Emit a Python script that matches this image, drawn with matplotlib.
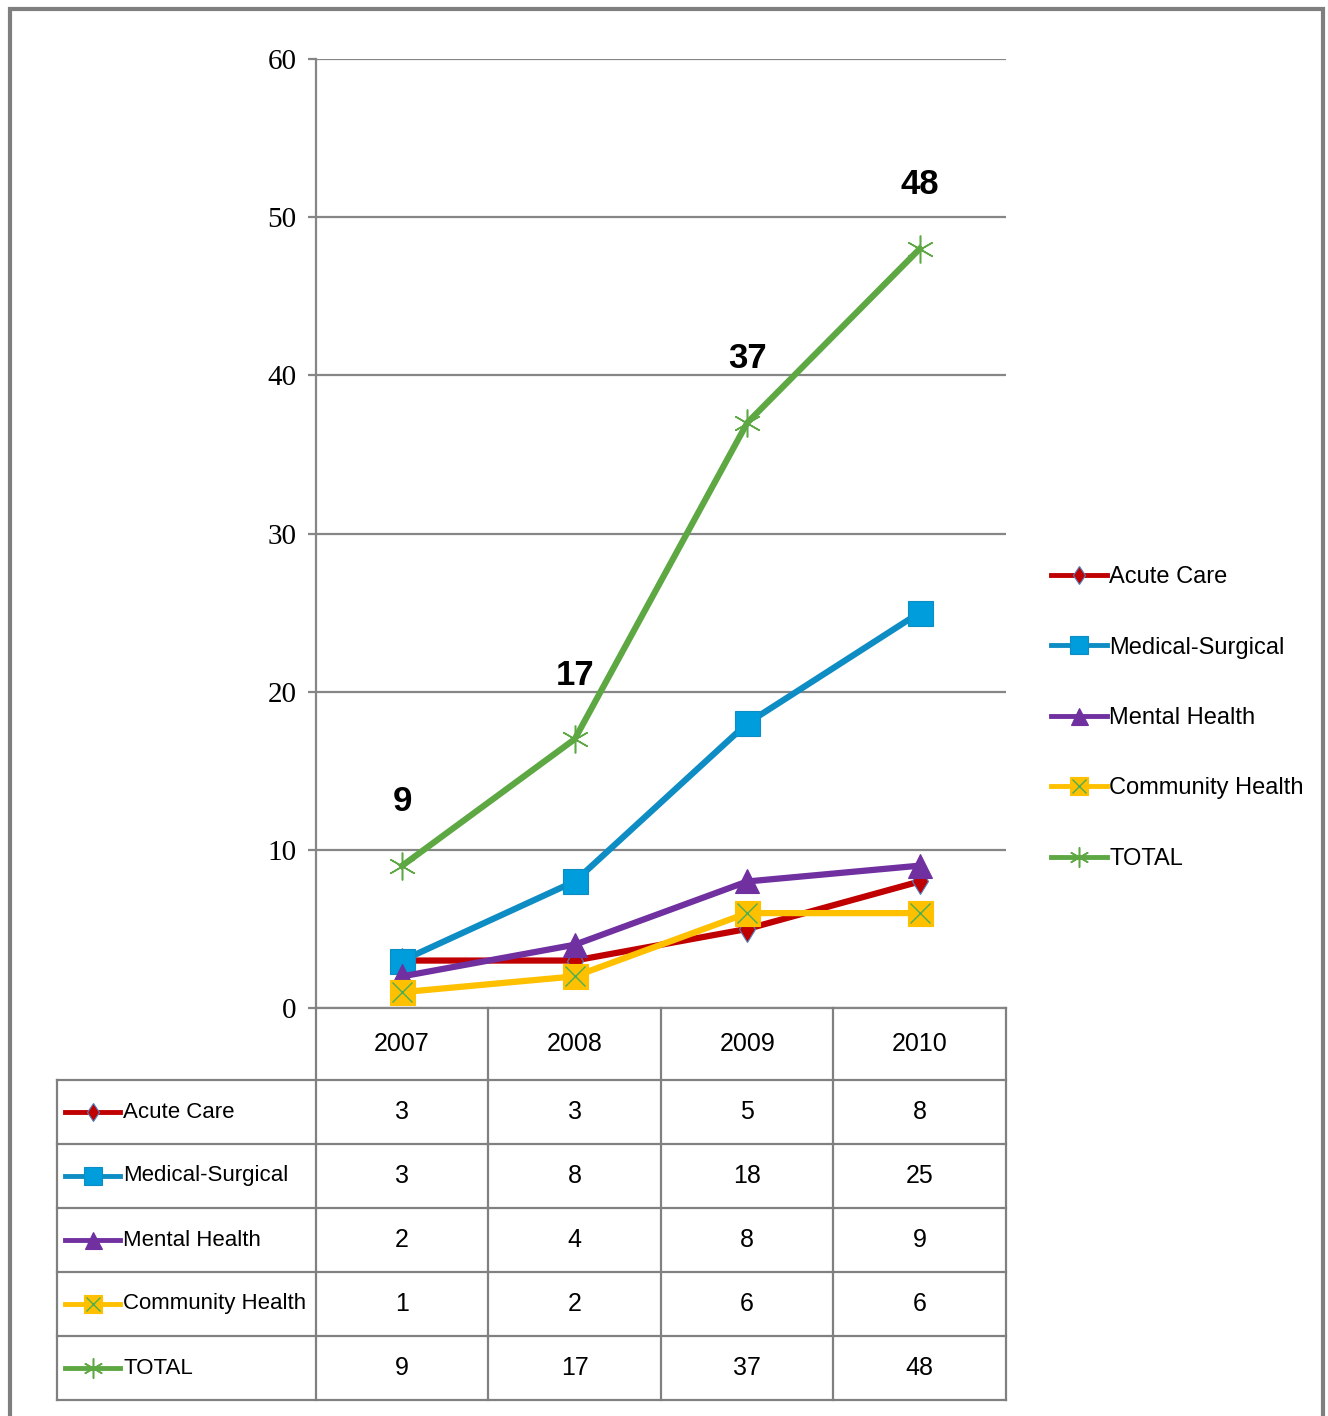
import matplotlib.pyplot as plt
from matplotlib.patches import Rectangle
from matplotlib.lines import Line2D
from matplotlib.legend_handler import HandlerTuple

W, H = 1328, 1416
plt.rcParams['font.family'] = ['Liberation Sans Narrow', 'Liberation Sans', 'DejaVu Sans']

years = ['2007', '2008', '2009', '2010']
series_names = ['Acute Care', 'Medical-Surgical', 'Mental Health', 'Community Health', 'TOTAL']
acute_care = [3, 3, 5, 8]
medical_surgical = [3, 8, 18, 25]
mental_health = [2, 4, 8, 9]
community_health = [1, 2, 6, 6]
total = [9, 17, 37, 48]
values = [acute_care, medical_surgical, mental_health, community_health, total]
yticks = [0, 10, 20, 30, 40, 50, 60]

styles = [
    dict(color='#C00000', marker='d', markersize=13, markerfacecolor='#C00000',
         markeredgecolor='#4F81BD', markeredgewidth=0.8),
    dict(color='#0E8CC4', marker='s', markersize=18, markerfacecolor='#009DDC',
         markeredgecolor='#0E8CC4', markeredgewidth=0.8),
    dict(color='#7030A0', marker='^', markersize=17, markerfacecolor='#7030A0',
         markeredgecolor='#7030A0', markeredgewidth=0.8),
    dict(color='#FFC000', marker='s', markersize=18, markerfacecolor='#FFC000',
         markeredgecolor='#FFC000', markeredgewidth=0.8),
    dict(color='#5DA843', marker=(6, 2, 0), markersize=20, markerfacecolor='none',
         markeredgecolor='#5DA843', markeredgewidth=1.1),
]
x_over = dict(marker='x', markersize=14, color='#4CAF50', markeredgewidth=1.0, linestyle='none')


def small_key(i, name, lw=3.5, scale=0.72):
    st = dict(styles[i])
    st['markersize'] = st['markersize'] * scale
    st['linewidth'] = lw
    key = Line2D([], [], **st)
    if name == 'Community Health':
        xo = dict(x_over)
        xo['markersize'] = 10
        return (key, Line2D([], [], **xo))
    return key


fig = plt.figure(figsize=(W / 100, H / 100), dpi=100)

# outer frame
fig.patches.append(Rectangle((10 / W, -0.05), 1313 / W, 1.05 - 9 / H, transform=fig.transFigure,
                             fill=False, edgecolor='#7F7F7F', linewidth=3))

ax = fig.add_axes([316 / W, 1 - 1008 / H, 690 / W, 949 / H])
x = list(range(len(years)))
for i, (name, vals) in enumerate(zip(series_names, values)):
    ax.plot(x, vals, linewidth=4.5, label=name, zorder=3 + i, **styles[i])
    if name == 'Community Health':
        ax.plot(x, vals, zorder=3 + i, **x_over)

for xi, v in zip(x, total):
    ax.annotate(str(v), (xi, v), xytext=(0, 46), textcoords='offset points',
                ha='center', va='center', fontsize=25, fontweight='bold', zorder=10)

ax.set_xlim(-0.5, len(years) - 0.5)
ax.set_ylim(0, 60)
ax.set_yticks(yticks)
ax.set_xticks([])
ax.yaxis.grid(True, color='#868686', linewidth=1.6)
ax.set_axisbelow(True)
for s in ['top', 'right']:
    ax.spines[s].set_visible(False)
for s in ['left', 'bottom']:
    ax.spines[s].set_color('#868686')
    ax.spines[s].set_linewidth(1.6)
ax.tick_params(axis='y', direction='out', length=6, width=1.6, color='#868686', pad=8)
for lab in ax.get_yticklabels():
    lab.set_fontfamily(['Liberation Serif', 'DejaVu Serif'])
    lab.set_fontsize(21)

leg_handles = [small_key(i, n) for i, n in enumerate(series_names)]
fig.legend(leg_handles, series_names, loc='center left', bbox_to_anchor=(1030 / W, 1 - 718 / H),
           frameon=False, fontsize=17, handlelength=2.35, handletextpad=0.1,
           labelspacing=2.05, handler_map={tuple: HandlerTuple(ndivide=1)})

# data table
tab = fig.add_axes([57 / W, 1 - 1400 / H, 949 / W, 392 / H])
tab.set_xlim(-2, len(years) - 0.5)
tab.set_ylim(6.125, 0)
tab.axis('off')
gc = dict(color='#808080', linewidth=1.6, clip_on=False)
for r in range(len(series_names) + 1):
    yy = 1.125 + r
    tab.plot([-2, len(years) - 0.5], [yy, yy], **gc)
tab.plot([-2, -2], [1.125, 6.125], **gc)
for c in range(len(years) + 1):
    xx = c - 0.5
    tab.plot([xx, xx], [0, 6.125], **gc)
for c, yr in enumerate(years):
    tab.text(c, 0.5625, yr, ha='center', va='center', fontsize=18)
for r, (name, vals) in enumerate(zip(series_names, values)):
    yc = 1.625 + r
    tab.plot([-1.954, -1.635], [yc, yc], linewidth=3.5, color=styles[r]['color'], clip_on=False)
    st = dict(styles[r])
    st['markersize'] = st['markersize'] * 0.72
    tab.plot([-1.79], [yc], linestyle='none', clip_on=False, **st)
    if name == 'Community Health':
        xo = dict(x_over)
        xo['markersize'] = 10
        tab.plot([-1.79], [yc], clip_on=False, **xo)
    tab.text(-1.615, yc, name, ha='left', va='center', fontsize=16)
    for c, v in enumerate(vals):
        tab.text(c, yc, str(v), ha='center', va='center', fontsize=18)

fig.savefig('out.png', dpi=100)
